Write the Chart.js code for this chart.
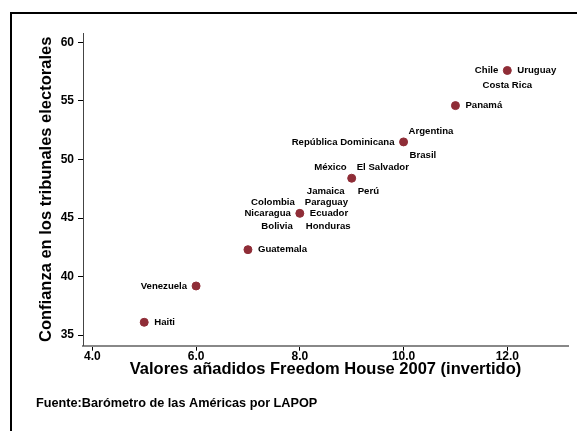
<!DOCTYPE html>
<html>
<head>
<meta charset="utf-8">
<script src="https://cdn.jsdelivr.net/npm/chart.js@4.4.1/dist/chart.umd.min.js"></script>
<style>
    body { margin: 0; background: #fff; }
</style>
</head>
<body>
<canvas id="scatter" width="577" height="431"></canvas>
<script>
const freedomHouse = [5, 6, 7, 8, 9, 10, 11, 12];
const confianza = [36.1, 39.2, 42.3, 45.4, 48.4, 51.5, 54.6, 57.6];
const paises = [
    ['Haiti'],
    ['Venezuela'],
    ['Guatemala'],
    ['Colombia', 'Paraguay', 'Nicaragua', 'Ecuador', 'Bolivia', 'Honduras'],
    ['México', 'El Salvador', 'Jamaica', 'Perú'],
    ['República Dominicana', 'Argentina', 'Brasil'],
    ['Panamá'],
    ['Chile', 'Uruguay', 'Costa Rica']
];
const xTicks = [4, 6, 8, 10, 12];
const yTicks = [35, 40, 45, 50, 55, 60];
const xTitle = 'Valores añadidos Freedom House 2007 (invertido)';
const yTitle = 'Confianza en los tribunales electorales';
const fuente = 'Fuente:Barómetro de las Américas por LAPOP';

// clock position of every label around its dot
const clock = [[3], [9], [3], [11, 1, 9, 3, 7, 5], [11, 1, 7, 5], [9, 1, 5], [3], [9, 3, 6]];

const FONT = '"Liberation Sans", Arial, sans-serif';

function labelSpot(pos, x, y) {
    switch (pos) {
        case 3: return { x: x + 10, y: y, align: 'left' };
        case 9: return { x: x - 9, y: y, align: 'right' };
        case 1: return { x: x + 5, y: y - 11, align: 'left' };
        case 11: return { x: x - 5, y: y - 11, align: 'right' };
        case 5: return { x: x + 6, y: y + 13, align: 'left' };
        case 7: return { x: x - 7, y: y + 13, align: 'right' };
        case 6: return { x: x, y: y + 15, align: 'center' };
    }
}

const countryLabels = {
    id: 'countryLabels',
    afterDatasetsDraw(chart) {
        const ctx = chart.ctx;
        const pts = chart.getDatasetMeta(0).data;
        ctx.save();
        ctx.font = 'bold 9.6px ' + FONT;
        ctx.fillStyle = '#000';
        ctx.textBaseline = 'middle';
        pts.forEach((p, i) => {
            paises[i].forEach((name, j) => {
                const s = labelSpot(clock[i][j], p.x, p.y);
                ctx.textAlign = s.align;
                ctx.fillText(name, s.x, s.y);
            });
        });
        ctx.restore();
    }
};

const frame = {
    id: 'frame',
    afterDraw(chart) {
        const ctx = chart.ctx;
        ctx.save();
        ctx.strokeStyle = '#000';
        ctx.lineWidth = 2;
        ctx.strokeRect(11, 13, 700, 600);
        ctx.font = 'bold 12.7px ' + FONT;
        ctx.fillStyle = '#000';
        ctx.textBaseline = 'middle';
        ctx.textAlign = 'left';
        ctx.fillText(fuente, 36, 403);
        ctx.restore();
    }
};

const ctx = document.getElementById('scatter').getContext('2d');
const myChart = new Chart(ctx, {
    type: 'scatter',
    data: {
        datasets: [{
            data: freedomHouse.map((v, i) => ({ x: v, y: confianza[i] })),
            backgroundColor: '#8f2d37',
            borderColor: '#8f2d37',
            pointRadius: 4,
            pointHoverRadius: 4
        }]
    },
    options: {
        responsive: false,
        animation: false,
        layout: {
            padding: { top: 33, right: 9, bottom: 0, left: 0 }
        },
        plugins: {
            legend: { display: false },
            tooltip: { enabled: false }
        },
        scales: {
            x: {
                type: 'linear',
                min: 3.82,
                max: 13.17,
                afterBuildTicks: s => { s.ticks = xTicks.map(v => ({ value: v })); },
                afterFit: s => { s.height = 85.3; },
                ticks: {
                    callback: v => v.toFixed(1),
                    font: { family: FONT, size: 12, weight: 'bold' },
                    color: '#000',
                    padding: -1,
                    maxRotation: 0
                },
                grid: {
                    drawOnChartArea: false,
                    tickLength: 5,
                    color: '#000',
                    tickColor: '#000'
                },
                border: { color: '#888', width: 2 },
                title: {
                    display: true,
                    text: xTitle,
                    color: '#000',
                    font: { family: FONT, size: 16.5, weight: 'bold' },
                    padding: { top: 0, bottom: 52 }
                }
            },
            y: {
                min: 34.1,
                max: 60.8,
                afterBuildTicks: s => { s.ticks = yTicks.map(v => ({ value: v })); },
                afterFit: s => { s.width = 83; },
                ticks: {
                    font: { family: FONT, size: 12, weight: 'bold' },
                    color: '#000',
                    padding: 4
                },
                grid: {
                    drawOnChartArea: false,
                    tickLength: 5,
                    color: '#000',
                    tickColor: '#000'
                },
                border: { color: '#444', width: 1 },
                title: {
                    display: true,
                    text: yTitle,
                    color: '#000',
                    font: { family: FONT, size: 16.5, weight: 'bold' },
                    padding: { top: 37, bottom: 0 }
                }
            }
        }
    },
    plugins: [countryLabels, frame]
});
</script>
</body>
</html>
